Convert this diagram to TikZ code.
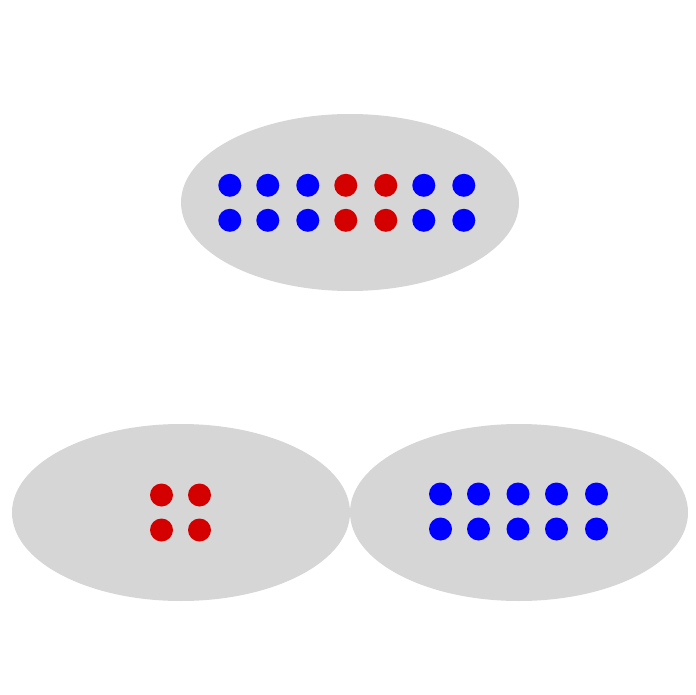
\documentclass[tikz,border=0pt]{standalone}
\usetikzlibrary{shapes.geometric}
\definecolor{setgray}{HTML}{D6D6D6}
\definecolor{dotred}{HTML}{D40000}
\definecolor{dotblue}{HTML}{0000FF}
\begin{document}
\begin{tikzpicture}[x=1pt,y=-1pt,
  setell/.style={ellipse, fill=setgray, draw=none, minimum width=338pt, minimum height=177pt, inner sep=0pt},
  bdot/.style={circle, fill=dotblue, draw=none, minimum size=23pt, inner sep=0pt},
  rdot/.style={circle, fill=dotred, draw=none, minimum size=23pt, inner sep=0pt}]
\useasboundingbox (0,0) rectangle (696,695);
\node[setell] (top) at (350,202.5) {};
\node[setell] (left) at (181,512.5) {};
\node[setell] (right) at (519,512.5) {};
% top dots
\foreach \x/\s [count=\i] in {229.8/bdot,267.8/bdot,307.8/bdot,345.8/rdot,385.8/rdot,423.8/bdot,463.8/bdot}{
  \node[\s] (t1\i) at (\x,185.3) {};
  \node[\s] (t2\i) at (\x,220.3) {};
}
% left dots
\foreach \x [count=\i] in {161.5,199.5}{
  \node[rdot] (l1\i) at (\x,495) {};
  \node[rdot] (l2\i) at (\x,530) {};
}
% right dots
\foreach \x [count=\i] in {440.5,478.5,518,556.5,596.5}{
  \node[bdot] (r1\i) at (\x,494) {};
  \node[bdot] (r2\i) at (\x,529) {};
}
\end{tikzpicture}
\end{document}
